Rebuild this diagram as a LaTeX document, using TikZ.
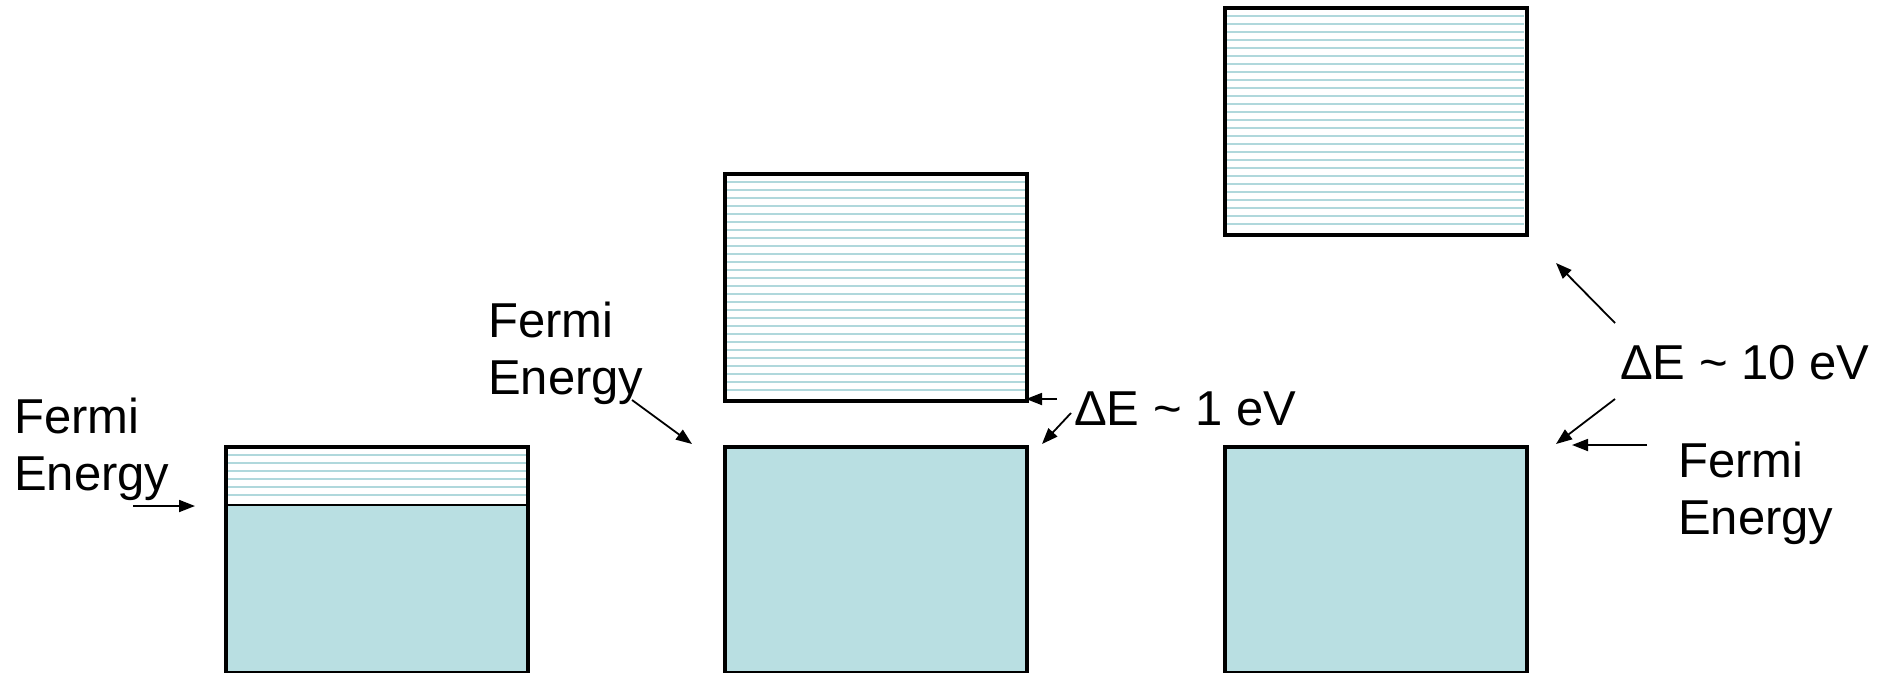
\documentclass[tikz,border=0pt]{standalone}
\usepackage{fontspec}
\setmainfont{Liberation Sans}
\usetikzlibrary{arrows.meta}
\definecolor{bandfill}{RGB}{185,223,226}
\definecolor{hatchc}{RGB}{176,216,220}
\begin{document}
\begin{tikzpicture}[x=1pt,y=-1pt,
  lbl/.style={font=\fontsize{49}{57}\selectfont, align=left, inner sep=0pt, anchor=base west},
  arr/.style={-{Triangle[length=16pt,width=12pt]}, line width=1.8pt},
  boxline/.style={draw=black, line width=3.5pt, inner sep=0pt, anchor=north west, minimum width=302pt},
  hatch/.style={draw=hatchc, line width=2.4pt}]
\useasboundingbox (0,0) rectangle (1889,672);

% ---- band 1 (metal) ----
\fill[bandfill] (224,505) rectangle (526,671);
\foreach \yy in {455,463,...,499} \draw[hatch] (224,\yy) -- (526,\yy);
\draw[line width=2.2pt] (224,505) -- (526,505);
\node[boxline, minimum height=226pt] (b1) at (224,445) {};

% ---- band 2 (semiconductor) ----
\foreach \yy in {182,190,...,392} \draw[hatch] (723,\yy) -- (1025,\yy);
\node[boxline, minimum height=227pt] (u2) at (723,172) {};
\node[boxline, minimum height=226pt, fill=bandfill] (l2) at (723,445) {};

% ---- band 3 (insulator) ----
\foreach \yy in {16,24,...,224} \draw[hatch] (1224,\yy) -- (1524,\yy);
\node[boxline, minimum height=227pt] (u3) at (1223,6) {};
\node[boxline, minimum height=226pt, fill=bandfill] (l3) at (1223,445) {};

% ---- labels (base = baseline of last line) ----
\node[lbl] (f1) at (14,490) {Fermi\\Energy};
\node[lbl] (f2) at (488,394) {Fermi\\Energy};
\node[lbl] (d1) at (1074,425) {ΔE \textasciitilde\ 1 eV};
\node[lbl] (d2) at (1620,379) {ΔE \textasciitilde\ 10 eV};
\node[lbl] (f3) at (1678,534) {Fermi\\Energy};

% ---- arrow end points ----
\coordinate (a1s) at (133,506); \coordinate (a1e) at (195,506);
\coordinate (a2s) at (632,400); \coordinate (a2e) at (692,444);
\coordinate (a3s) at (1057,399); \coordinate (a3e) at (1026,399);
\coordinate (a4s) at (1071,413); \coordinate (a4e) at (1042,444);
\coordinate (a5s) at (1615,323); \coordinate (a5e) at (1556,263);
\coordinate (a6s) at (1615,399); \coordinate (a6e) at (1556,444);
\coordinate (a7s) at (1647,445); \coordinate (a7e) at (1572,445);

\draw[arr] (a1s) -- (a1e);
\draw[arr] (a2s) -- (a2e);
\draw[arr] (a3s) -- (a3e);
\draw[arr] (a4s) -- (a4e);
\draw[arr] (a5s) -- (a5e);
\draw[arr] (a6s) -- (a6e);
\draw[arr] (a7s) -- (a7e);
\end{tikzpicture}
\end{document}
